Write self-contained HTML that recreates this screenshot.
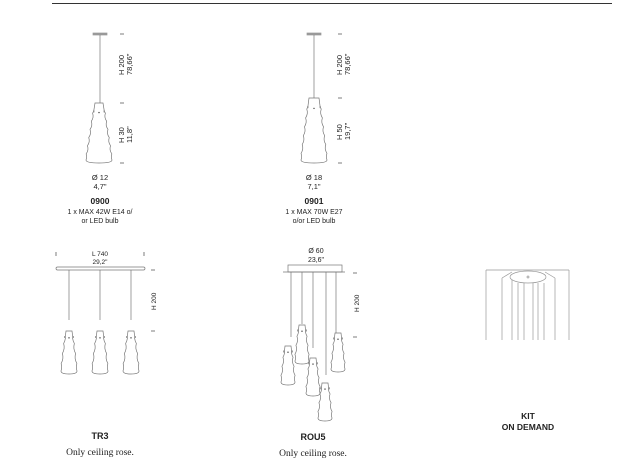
<!DOCTYPE html>
<html><head><meta charset="utf-8"><style>
html,body{margin:0;padding:0;background:#fff;width:630px;height:466px;overflow:hidden}
svg{display:block}
text{font-family:"Liberation Sans",sans-serif;fill:#222}
</style></head><body>
<svg id="s" width="630" height="466" viewBox="0 0 630 466" xmlns="http://www.w3.org/2000/svg">
<line x1="52" y1="3.5" x2="612" y2="3.5" stroke="#333" stroke-width="1"/>
<g stroke="#777" stroke-width="0.7" fill="none" id="g">
<rect x="93" y="33" width="14" height="2" fill="#999" stroke="#999"/>
<line x1="100" y1="35" x2="100" y2="103"/>
<rect x="307" y="33" width="14" height="2" fill="#999" stroke="#999"/>
<line x1="314" y1="35" x2="314" y2="98"/>
<g stroke="#444">
<line x1="120" y1="34" x2="124" y2="34"/><line x1="120" y1="103" x2="124" y2="103"/><line x1="120" y1="163" x2="124" y2="163"/>
<line x1="338" y1="34" x2="342" y2="34"/><line x1="338" y1="98" x2="342" y2="98"/><line x1="338" y1="163" x2="342" y2="163"/>
<line x1="56" y1="252" x2="56" y2="256"/><line x1="144" y1="252" x2="144" y2="256"/>
<line x1="151" y1="270" x2="155" y2="270"/><line x1="151" y1="331" x2="155" y2="331"/>
<line x1="353" y1="273" x2="357" y2="273"/><line x1="353" y1="337" x2="357" y2="337"/>
</g>
<rect x="56" y="267" width="89" height="3" rx="1.5"/>
<line x1="69" y1="270" x2="69" y2="320"/><line x1="100" y1="270" x2="100" y2="320"/><line x1="131" y1="270" x2="131" y2="320"/>
<rect x="288" y="265" width="54" height="7"/>
<line x1="283" y1="272" x2="345" y2="272"/>
<line x1="291" y1="272" x2="291" y2="337"/><line x1="302" y1="272" x2="302" y2="324"/><line x1="313" y1="272" x2="313" y2="348"/><line x1="326" y1="272" x2="326" y2="375"/><line x1="336" y1="272" x2="336" y2="333"/>
<g stroke="#999" stroke-width="0.7">
<line x1="486" y1="270" x2="569" y2="270"/>
<line x1="486" y1="270" x2="486" y2="340"/><line x1="569" y1="270" x2="569" y2="340"/>
<line x1="512" y1="272" x2="502" y2="278"/><line x1="545" y1="272" x2="555" y2="278"/>
<line x1="502" y1="278" x2="502" y2="340"/><line x1="555" y1="278" x2="555" y2="340"/>
<line x1="512" y1="280" x2="512" y2="340"/><line x1="518" y1="283" x2="518" y2="340"/><line x1="524" y1="283" x2="524" y2="340"/>
<line x1="533" y1="283" x2="533" y2="340"/><line x1="538" y1="283" x2="538" y2="340"/><line x1="544" y1="283" x2="544" y2="340"/>
<ellipse cx="528" cy="277" rx="18" ry="6" fill="#fff"/>
<circle cx="528" cy="277" r="1"/>
</g>
</g>
<g font-size="7.5">
<text transform="translate(124,75) rotate(-90)">H 200</text>
<text transform="translate(132,75) rotate(-90)">78,66"</text>
<text transform="translate(124,143) rotate(-90)">H 30</text>
<text transform="translate(132,143) rotate(-90)">11,8"</text>
<text transform="translate(342,75) rotate(-90)">H 200</text>
<text transform="translate(350,75) rotate(-90)">78,66"</text>
<text transform="translate(342,140) rotate(-90)">H 50</text>
<text transform="translate(350,140) rotate(-90)">19,7"</text>
<text transform="translate(156,310) rotate(-90)" font-size="6.5">H 200</text>
<text transform="translate(359,312) rotate(-90)" font-size="6.5">H 200</text>
</g>
<g font-size="7.5" text-anchor="middle">
<text x="100" y="180">Ø 12</text><text x="100" y="189">4,7"</text>
<text x="100" y="204" font-weight="bold" font-size="8.5">0900</text>
<text x="100" y="214" font-size="7">1 x MAX 42W E14 o/</text>
<text x="100" y="223" font-size="7">or LED bulb</text>
<text x="314" y="180">Ø 18</text><text x="314" y="189">7,1"</text>
<text x="314" y="204" font-weight="bold" font-size="8.5">0901</text>
<text x="314" y="214" font-size="7">1 x MAX 70W E27</text>
<text x="314" y="223" font-size="7">o/or LED bulb</text>
<text x="100" y="256" font-size="6.5">L 740</text><text x="100" y="264" font-size="6.5">29,2"</text>
<text x="316" y="253" font-size="7">Ø 60</text><text x="316" y="262" font-size="7">23,6"</text>
<text x="100" y="439" font-weight="bold" font-size="9">TR3</text>
<text x="313" y="440" font-weight="bold" font-size="9">ROU5</text>
<text x="100" y="455" font-size="9.5" style="font-family:'Liberation Serif',serif">Only ceiling rose.</text>
<text x="313" y="456" font-size="9.5" style="font-family:'Liberation Serif',serif">Only ceiling rose.</text>
<text x="528" y="419" font-size="8.5" font-weight="bold">KIT</text>
<text x="528" y="430" font-size="8.5" font-weight="bold">ON DEMAND</text>
</g>
</svg>
<script>
var g=document.getElementById('g'),NS="http://www.w3.org/2000/svg";
function lamp(cx,top,h,wt,wb,waves){
 var n=waves,L=[],R=[];
 for(var i=0;i<=n*4;i++){var t=i/(n*4);var y=top+t*(h-3);var w=wt/2+(wb/2-wt/2)*t;
  var wob=(i%4==1?0.8:(i%4==3?-0.3:0))*(t>0.15?1:0);L.push([cx-w-wob,y]);R.push([cx+w+wob,y]);}
 var d="M"+L[0][0]+","+L[0][1];for(var i=1;i<L.length;i++)d+=" L"+L[i][0].toFixed(2)+","+L[i][1].toFixed(2);
 var lb=L[L.length-1],rb=R[R.length-1];
 d+=" Q"+lb[0]+","+(top+h)+" "+cx+","+(top+h)+" Q"+rb[0]+","+(top+h)+" "+rb[0]+","+rb[1];
 for(var i=R.length-2;i>=0;i--)d+=" L"+R[i][0].toFixed(2)+","+R[i][1].toFixed(2);d+=" Z";
 var p=document.createElementNS(NS,"path");p.setAttribute("d",d);p.setAttribute("fill","#fff");g.appendChild(p);
 var ky=top+h*0.14;[[cx-wt/2-1.2,ky],[cx+wt/2+1.2,ky]].forEach(function(k){var r=document.createElementNS(NS,"rect");r.setAttribute("x",k[0]-0.6);r.setAttribute("y",k[1]-1);r.setAttribute("width",1.2);r.setAttribute("height",2);r.setAttribute("fill","#888");r.setAttribute("stroke","none");g.appendChild(r);});
 var c=document.createElementNS(NS,"circle");c.setAttribute("cx",cx);c.setAttribute("cy",top+h*0.16);c.setAttribute("r",0.7);c.setAttribute("fill","#444");c.setAttribute("stroke","none");g.appendChild(c);
}
lamp(99,103,60,8,26,7);
lamp(314,98,65,10,26,7);
lamp(69,331,43,6,16,4);lamp(100,331,43,6,16,4);lamp(131,331,43,6,16,4);
lamp(288,346,39,6,14,4);lamp(302,325,39,6,14,4);lamp(313,358,38,6,14,4);lamp(325,383,38,6,14,4);lamp(338,333,39,6,14,4);
</script>
</body></html>
